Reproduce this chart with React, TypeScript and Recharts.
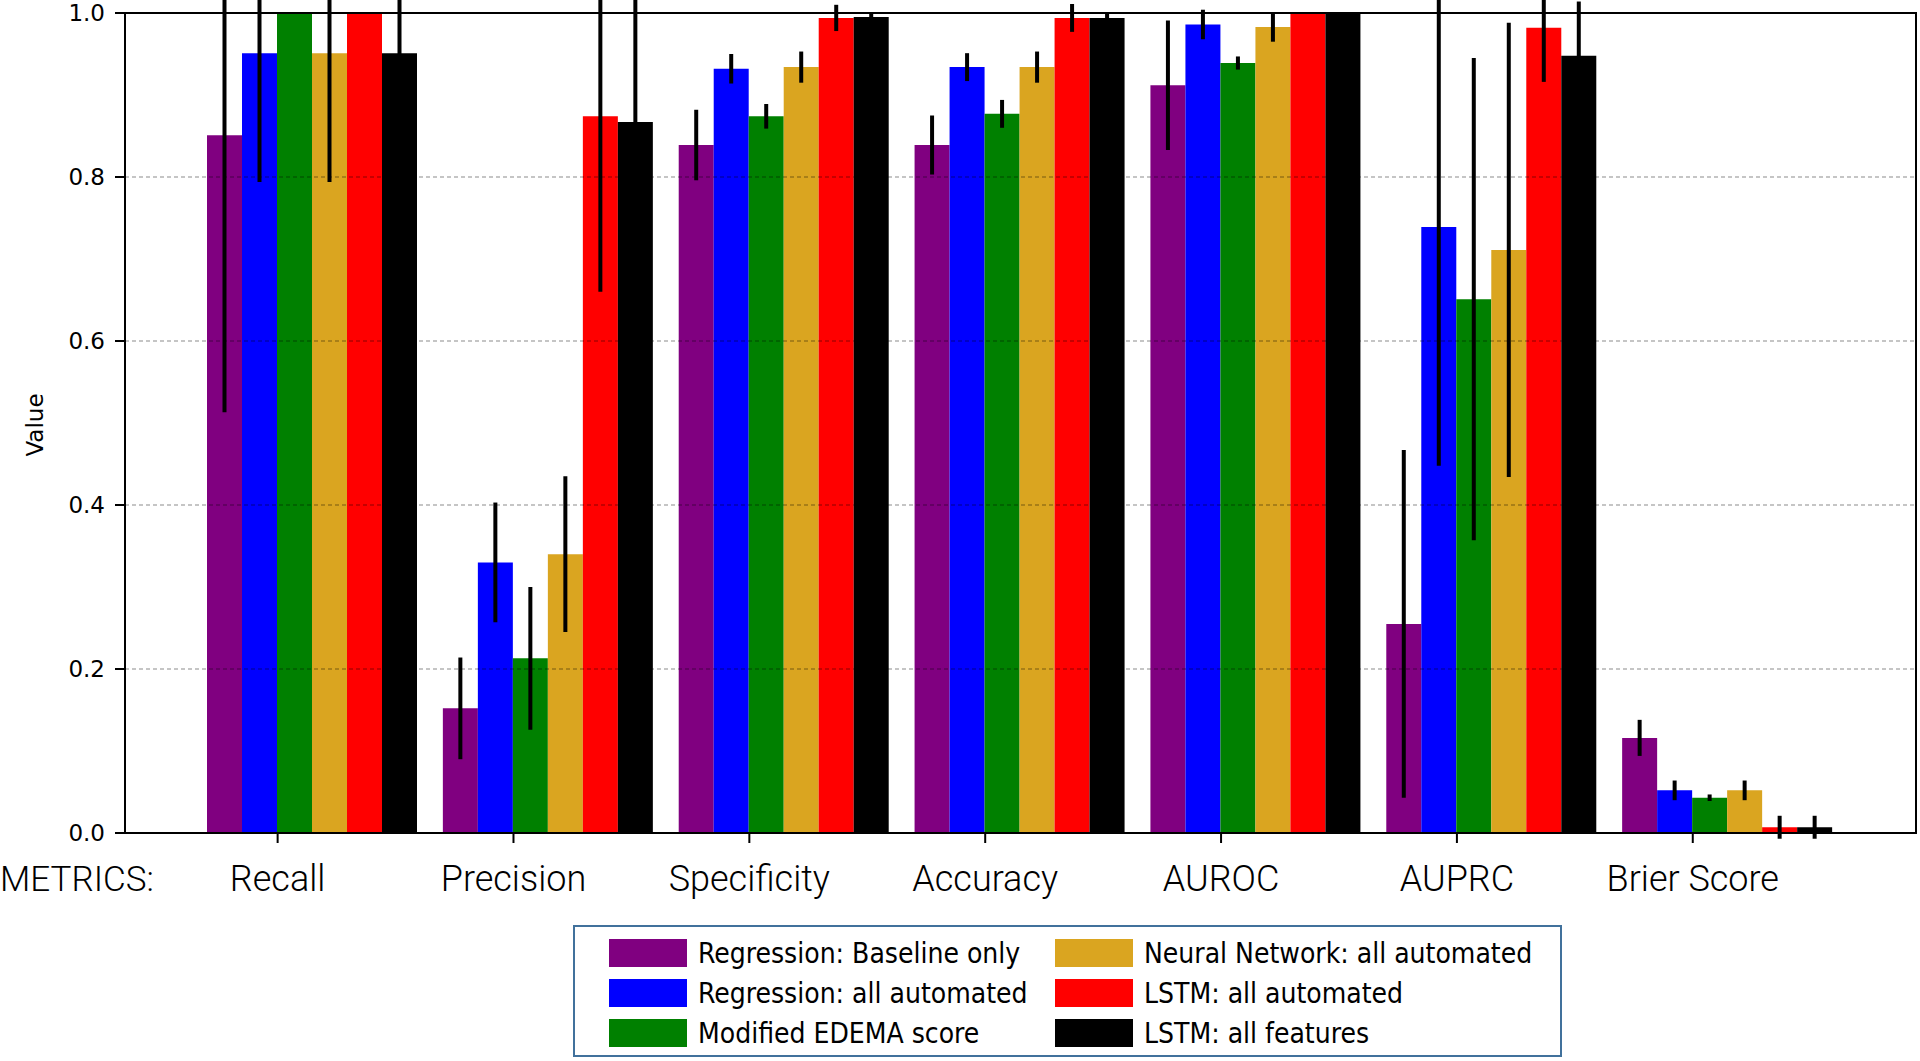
import { Bar, BarChart, ErrorBar, ReferenceLine, XAxis, YAxis } from "recharts";

const metrics = ["Recall", "Precision", "Specificity", "Accuracy", "AUROC", "AUPRC", "Brier Score"];

const seriesNames = [
  "Regression: Baseline only",
  "Regression: all automated",
  "Modified EDEMA score",
  "Neural Network: all automated",
  "LSTM: all automated",
  "LSTM: all features",
];
const seriesColors = ["#800080", "#0000ff", "#008000", "#daa520", "#ff0000", "#000000"];

// bar heights
const regBaseline = [0.851, 0.152, 0.839, 0.839, 0.912, 0.255, 0.116];
const regAutomated = [0.951, 0.33, 0.932, 0.934, 0.986, 0.739, 0.052];
const edemaScore = [1.0, 0.213, 0.874, 0.877, 0.939, 0.651, 0.043];
const neuralNet = [0.951, 0.34, 0.934, 0.934, 0.983, 0.711, 0.052];
const lstmAutomated = [1.0, 0.874, 0.994, 0.994, 1.0, 0.982, 0.007];
const lstmAll = [0.951, 0.867, 0.995, 0.994, 1.0, 0.948, 0.007];

// +/- error
const regBaselineErr = [0.338, 0.062, 0.043, 0.036, 0.079, 0.212, 0.022];
const regAutomatedErr = [0.157, 0.073, 0.018, 0.017, 0.018, 0.291, 0.012];
const edemaScoreErr = [0, 0.087, 0.015, 0.017, 0.008, 0.294, 0.004];
const neuralNetErr = [0.157, 0.095, 0.019, 0.019, 0.018, 0.277, 0.012];
const lstmAutomatedErr = [0, 0.214, 0.016, 0.017, 0, 0.066, 0.014];
const lstmAllErr = [0.157, 0.2, 0.005, 0.005, 0, 0.066, 0.014];

const yTicks = [0, 0.2, 0.4, 0.6, 0.8, 1.0];
const gridLevels = [0.2, 0.4, 0.6, 0.8];

const values = [regBaseline, regAutomated, edemaScore, neuralNet, lstmAutomated, lstmAll];
const errors = [regBaselineErr, regAutomatedErr, edemaScoreErr, neuralNetErr, lstmAutomatedErr, lstmAllErr];

const data = metrics.map((metric, i) => {
  const row: Record<string, string | number> = { metric };
  values.forEach((v, s) => {
    row[`s${s}`] = v[i];
    row[`e${s}`] = errors[s][i];
  });
  return row;
});

const BAR_W = 35.3;

const MetricTick = ({ x, y, payload }: any) => (
  <g>
    <line x1={x - BAR_W} x2={x - BAR_W} y1={y} y2={y + 10} stroke="#000" strokeWidth={2} />
    <text
      x={x - BAR_W}
      y={y + 58}
      textAnchor="middle"
      fontFamily="Roboto"
      fontWeight={300}
      fontSize={36}
      fill="#000"
    >
      {payload.value}
    </text>
  </g>
);

const ValueTick = ({ x, y, payload }: any) => (
  <g>
    <line x1={x - 10} x2={x} y1={y} y2={y} stroke="#000" strokeWidth={2} />
    <text x={x - 20} y={y} dy="0.36em" textAnchor="end" fontFamily="DejaVu Sans" fontSize={23} fill="#000">
      {payload.value.toFixed(1)}
    </text>
  </g>
);

const legendCols = [[0, 1, 2], [3, 4, 5]];

const LegendBox = () => (
  <div
    style={{
      position: "absolute",
      left: 573,
      top: 925,
      boxSizing: "border-box",
      width: 989,
      height: 132,
      border: "2px solid #41719c",
      background: "#fff",
      fontFamily: "'DejaVu Sans Condensed', 'Liberation Sans Narrow', 'DejaVu Sans'",
      fontStretch: "condensed",
      fontSize: 28,
      color: "#000",
    }}
  >
    {legendCols.map((col, c) =>
      col.map((s, r) => (
        <div
          key={s}
          style={{ position: "absolute", left: 34 + c * 446, top: 12 + r * 40, display: "flex", alignItems: "center", height: 28 }}
        >
          <div style={{ width: 78, height: 28, background: seriesColors[s] }} />
          <span style={{ marginLeft: 11, whiteSpace: "nowrap" }}>{seriesNames[s]}</span>
        </div>
      ))
    )}
  </div>
);

export default function App() {
  return (
    <div style={{ position: "absolute", left: 0, top: 0, width: 1920, height: 1061, background: "#fff" }}>
      <BarChart
        width={1920}
        height={1061}
        data={data}
        margin={{ top: 13, right: 4, left: 0, bottom: 148 }}
        barCategoryGap={12}
        barGap={0}
      >
        <XAxis
          dataKey="metric"
          height={80}
          padding={{ left: 70, right: 70 }}
          axisLine={false}
          tickLine={false}
          tickSize={0}
          tickMargin={0}
          interval={0}
          tick={<MetricTick />}
        />
        <YAxis
          width={125}
          domain={[0, 1]}
          ticks={yTicks}
          allowDataOverflow
          axisLine={false}
          tickLine={false}
          tickSize={0}
          tickMargin={0}
          tick={<ValueTick />}
        />
        {seriesNames.map((name, s) => (
          <Bar key={name} dataKey={`s${s}`} name={name} fill={seriesColors[s]} isAnimationActive={false}>
            <ErrorBar dataKey={`e${s}`} direction="y" width={0} stroke="#000" strokeWidth={4} />
          </Bar>
        ))}
        {gridLevels.map((g) => (
          <ReferenceLine key={g} y={g} stroke="rgba(0,0,0,0.3)" strokeWidth={1.5} strokeDasharray="4 3" />
        ))}
      </BarChart>
      <LegendBox />
      <svg
        width={1920}
        height={1061}
        style={{ position: "absolute", left: 0, top: 0, pointerEvents: "none" }}
      >
        <rect x={125} y={13} width={1791} height={820} fill="none" stroke="#000" strokeWidth={2} />
        <text x={0} y={891} fontFamily="Roboto" fontWeight={300} fontSize={35} fill="#000">
          METRICS:
        </text>
        <text
          x={35}
          y={425}
          transform="rotate(-90 35 425)"
          textAnchor="middle"
          dominantBaseline="central"
          fontFamily="DejaVu Sans"
          fontSize={23}
          fill="#000"
        >
          Value
        </text>
      </svg>
    </div>
  );
}
